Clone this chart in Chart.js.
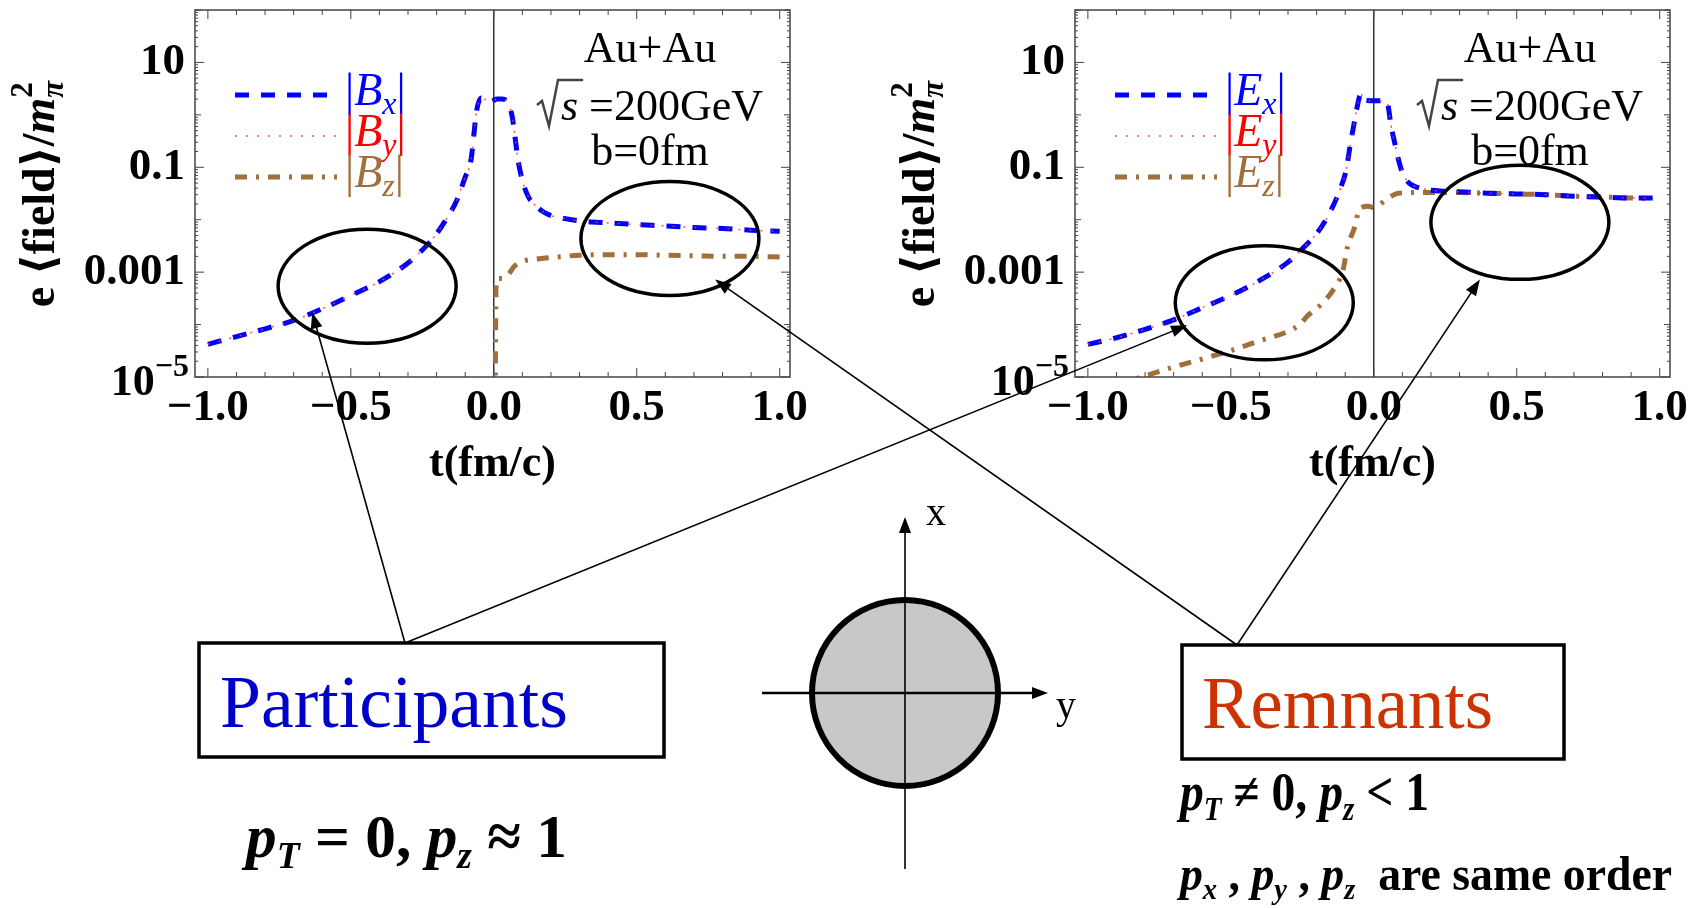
<!DOCTYPE html>
<html>
<head>
<meta charset="utf-8">
<script src="https://cdn.jsdelivr.net/npm/chart.js@4.4.1/dist/chart.umd.min.js"></script>
<style>
    body { margin: 0; background: #fff; width: 1698px; height: 908px; overflow: hidden; position: relative; }
    .plot { position: absolute; top: 0; width: 840px; height: 500px; }
    #overlay { position: absolute; left: 0; top: 0; pointer-events: none; }
</style>
</head>
<body>
<div class="plot" style="left:0"><canvas id="plotB"></canvas></div>
<div class="plot" style="left:880px"><canvas id="plotE"></canvas></div>
<canvas id="overlay" width="1698" height="908"></canvas>
<script>
// ---- Datos ----
const tB = [-1.0, -0.9, -0.8, -0.7, -0.6, -0.5, -0.4, -0.3, -0.24, -0.2, -0.17, -0.13, -0.1, -0.08, -0.06, -0.045, -0.03, -0.015, 0, 0.01, 0.03, 0.05, 0.065, 0.075, 0.085, 0.1, 0.12, 0.14, 0.17, 0.2, 0.25, 0.3, 0.4, 0.5, 0.6, 0.7, 0.8, 0.9, 1.0];
const bxValues = [4.2e-5, 5.9e-5, 8.3e-5, 1.2e-4, 2.0e-4, 3.6e-4, 6.6e-4, 1.5e-3, 3.0e-3, 5.4e-3, 9.5e-3, 0.023, 0.065, 0.135, 1.2, 2.1, 1.95, 1.8, 1.9, 2.0, 2.0, 1.66, 0.89, 0.35, 0.135, 0.056, 0.028, 0.020, 0.0145, 0.012, 0.0105, 0.0095, 0.0087, 0.0081, 0.0076, 0.0071, 0.0068, 0.0063, 0.0060];
const byValues = [4.2e-5, 5.9e-5, 8.3e-5, 1.2e-4, 2.0e-4, 3.6e-4, 6.6e-4, 1.5e-3, 3.0e-3, 5.4e-3, 9.5e-3, 0.023, 0.065, 0.135, 1.2, 2.1, 1.95, 1.8, 1.9, 2.0, 2.0, 1.66, 0.89, 0.35, 0.135, 0.056, 0.028, 0.020, 0.0145, 0.012, 0.0105, 0.0095, 0.0087, 0.0081, 0.0076, 0.0071, 0.0068, 0.0063, 0.0060];
const tBz = [0.004, 0.008, 0.012, 0.03, 0.05, 0.07, 0.096, 0.15, 0.2, 0.3, 0.4, 0.5, 0.6, 0.7, 0.8, 0.9, 1.0];
const bzValues = [1e-6, 5.0e-4, 7.6e-4, 7.6e-4, 8.9e-4, 1.26e-3, 1.58e-3, 1.78e-3, 1.9e-3, 2.1e-3, 2.15e-3, 2.15e-3, 2.1e-3, 2.05e-3, 2.0e-3, 2.0e-3, 1.95e-3];

const tE = [-1.0, -0.9, -0.8, -0.7, -0.6, -0.5, -0.4, -0.3, -0.25, -0.2, -0.15, -0.115, -0.097, -0.08, -0.07, -0.06, -0.045, -0.035, -0.01, 0, 0.02, 0.04, 0.05, 0.06, 0.07, 0.085, 0.1, 0.12, 0.14, 0.18, 0.25, 0.3, 0.4, 0.5, 0.6, 0.7, 0.8, 0.9, 0.98];
const exValues = [4.2e-5, 5.6e-5, 8.1e-5, 1.23e-4, 2.1e-4, 3.6e-4, 6.9e-4, 1.55e-3, 2.8e-3, 5.4e-3, 0.015, 0.042, 0.087, 0.32, 0.63, 1.26, 2.5, 1.9, 1.86, 1.86, 1.86, 1.95, 1.5, 0.63, 0.35, 0.15, 0.079, 0.052, 0.044, 0.038, 0.035, 0.034, 0.032, 0.031, 0.030, 0.028, 0.027, 0.026, 0.026];
const eyValues = [4.2e-5, 5.6e-5, 8.1e-5, 1.23e-4, 2.1e-4, 3.6e-4, 6.9e-4, 1.55e-3, 2.8e-3, 5.4e-3, 0.015, 0.042, 0.087, 0.32, 0.63, 1.26, 2.5, 1.9, 1.86, 1.86, 1.86, 1.95, 1.5, 0.63, 0.35, 0.15, 0.079, 0.052, 0.044, 0.038, 0.035, 0.034, 0.032, 0.031, 0.030, 0.028, 0.027, 0.026, 0.026];
const tEz = [-0.9, -0.83, -0.7, -0.6, -0.5, -0.4, -0.3, -0.26, -0.23, -0.185, -0.143, -0.108, -0.092, -0.067, -0.05, -0.02, 0, 0.038, 0.06, 0.085, 0.15, 0.21, 0.3, 0.4, 0.5, 0.6, 0.7, 0.8, 0.9, 0.98];
const ezValues = [7.1e-6, 9.3e-6, 1.55e-5, 2.2e-5, 3.2e-5, 4.9e-5, 7.4e-5, 1.0e-4, 1.5e-4, 2.4e-4, 4.5e-4, 1.07e-3, 3.0e-3, 7.2e-3, 0.016, 0.018, 0.017, 0.023, 0.028, 0.032, 0.033, 0.033, 0.033, 0.032, 0.031, 0.030, 0.028, 0.027, 0.026, 0.025];

const xTickValues = [-1, -0.5, 0, 0.5, 1];
const xTickLabels = ['−1.0', '−0.5', '0.0', '0.5', '1.0'];
const yTickValues = [1e-5, 1e-3, 0.1, 10];
const yTickLabels = ['', '0.001', '0.1', '10'];   // 10^-5 se dibuja aparte (superíndice)
const components = ['x', 'y', 'z'];
const legendColors = ['#0000ff', '#ff0000', '#a0703c'];

const SERIF = '"Liberation Serif", "DejaVu Serif", serif';
const f = (style, size) => `${style} ${size}px ${SERIF}`;

// ---- Utilidades de dibujo ----
function richWidth(ctx, parts) {
    let w = 0;
    parts.forEach(p => { ctx.font = p.f; if (!p.stay) w += ctx.measureText(p.t).width; });
    return w;
}

function drawRich(ctx, parts, x, y, opts = {}) {
    const w = richWidth(ctx, parts);
    const sx = opts.width ? opts.width / w : 1;
    let start = x;
    if (opts.align === 'center') start = x - w * sx / 2;
    if (opts.align === 'right') start = x - w * sx;
    ctx.save();
    ctx.translate(start, y);
    ctx.scale(sx, 1);
    ctx.textAlign = 'left';
    ctx.textBaseline = 'alphabetic';
    let cx = 0;
    parts.forEach(p => {
        ctx.font = p.f;
        ctx.fillStyle = p.c || opts.color || '#000';
        ctx.fillText(p.t, cx, p.dy || 0);
        if (!p.stay) cx += ctx.measureText(p.t).width;
    });
    ctx.restore();
    return w * sx;
}

function line(ctx, x1, y1, x2, y2) {
    ctx.beginPath();
    ctx.moveTo(x1, y1);
    ctx.lineTo(x2, y2);
    ctx.stroke();
}

function arrow(ctx, x1, y1, x2, y2, width, headLen, headHalf) {
    const ang = Math.atan2(y2 - y1, x2 - x1);
    ctx.lineWidth = width;
    line(ctx, x1, y1, x2 - Math.cos(ang) * headLen * 0.6, y2 - Math.sin(ang) * headLen * 0.6);
    ctx.beginPath();
    ctx.moveTo(x2, y2);
    ctx.lineTo(x2 - Math.cos(ang) * headLen - Math.sin(ang) * headHalf, y2 - Math.sin(ang) * headLen + Math.cos(ang) * headHalf);
    ctx.lineTo(x2 - Math.cos(ang) * headLen + Math.sin(ang) * headHalf, y2 - Math.sin(ang) * headLen - Math.cos(ang) * headHalf);
    ctx.closePath();
    ctx.fill();
}

// ---- Plugin de decoración de cada panel (marco, ticks internos, leyenda, textos) ----
function panelDecor(panel) {
    return {
        id: 'panelDecor',
        beforeDatasetsDraw(chart) {
            const { ctx, chartArea: a, scales: { x } } = chart;
            const x0 = x.getPixelForValue(0);
            ctx.save();
            ctx.strokeStyle = '#000';
            ctx.lineWidth = 1.2;
            line(ctx, x0, a.top, x0, a.bottom);
            ctx.restore();
        },
        afterDatasetsDraw(chart) {
            const { ctx, chartArea: a, scales: { x, y } } = chart;
            ctx.save();

            // marco
            ctx.strokeStyle = '#444';
            ctx.lineWidth = 1.5;
            ctx.strokeRect(a.left, a.top, a.right - a.left, a.bottom - a.top);

            // ticks internos eje x (cada 0.1)
            ctx.lineWidth = 1;
            for (let i = -10; i <= 10; i++) {
                const px = x.getPixelForValue(i / 10);
                const len = i % 5 === 0 ? 9 : 5;
                line(ctx, px, a.bottom, px, a.bottom - len);
                line(ctx, px, a.top, px, a.top + len);
            }
            // ticks internos eje y (log)
            for (let e = -5; e <= 2; e++) {
                for (let m = 1; m <= 9; m++) {
                    const v = m * Math.pow(10, e);
                    if (v < y.min || v > y.max) continue;
                    const py = y.getPixelForValue(v);
                    const len = m === 1 ? (e % 2 !== 0 ? 9 : 6) : 3;
                    line(ctx, a.left, py, a.left + len, py);
                    line(ctx, a.right, py, a.right - len, py);
                }
            }

            // leyenda
            chart.data.datasets.forEach((ds, i) => {
                const ly = a.top + 85 + i * 41;
                ctx.save();
                ctx.strokeStyle = ds.borderColor;
                ctx.lineWidth = ds.borderWidth;
                ctx.setLineDash(ds.borderDash || []);
                line(ctx, a.left + 40, ly, a.left + 142, ly);
                ctx.restore();
                drawRich(ctx, [
                    { t: '|', f: f('', 46) },
                    { t: panel.symbol, f: f('italic', 46) },
                    { t: components[i], f: f('italic', 32), dy: 9 },
                    { t: '|', f: f('', 46) }
                ], a.left + 150, ly + 10, { color: legendColors[i] });
            });

            // bloque de texto Au+Au
            const cx = a.left + 455;
            ctx.fillStyle = '#000';
            ctx.textAlign = 'center';
            ctx.font = f('', 44);
            ctx.fillText('Au+Au', cx, a.top + 52);
            ctx.fillText('b=0fm', cx, a.top + 155);
            const by = a.top + 110;
            ctx.font = f('italic', 44);
            const ws = ctx.measureText('s').width;
            ctx.font = f('', 44);
            const wr = ctx.measureText(' =200GeV').width;
            const sx0 = cx - (24 + ws + wr) / 2;
            ctx.lineWidth = 2.5;
            ctx.beginPath();
            ctx.moveTo(sx0, by - 15);
            ctx.lineTo(sx0 + 5, by - 19);
            ctx.lineTo(sx0 + 12, by + 6);
            ctx.lineTo(sx0 + 21, by - 40);
            ctx.lineTo(sx0 + 24 + ws + 5, by - 40);
            ctx.stroke();
            drawRich(ctx, [{ t: 's', f: f('italic', 44) }, { t: ' =200GeV', f: f('', 44) }], sx0 + 24, by);

            // elipses
            ctx.strokeStyle = '#000';
            ctx.lineWidth = 3.5;
            panel.ellipses.forEach(el => {
                ctx.beginPath();
                ctx.ellipse(x.getPixelForValue(el.t), y.getPixelForValue(el.v), el.rx, el.ry, 0, 0, Math.PI * 2);
                ctx.stroke();
            });
            ctx.restore();
        },
        afterDraw(chart) {
            const { ctx, chartArea: a, scales: { y } } = chart;
            ctx.save();
            // etiqueta 10^-5
            drawRich(ctx, [
                { t: '10', f: f('bold', 44) },
                { t: '−5', f: f('bold', 32), dy: -19 }
            ], a.left - 6, y.getPixelForValue(1e-5) + 18, { align: 'right' });

            // título eje x
            ctx.fillStyle = '#000';
            ctx.textAlign = 'center';
            ctx.font = f('bold', 44);
            ctx.fillText('t(fm/c)', (a.left + a.right) / 2, 476);

            // título eje y (rotado)
            ctx.translate(54, 194);
            ctx.rotate(-Math.PI / 2);
            drawRich(ctx, [
                { t: 'e ⟨field⟩/', f: f('bold', 46) },
                { t: 'm', f: f('bold italic', 46) },
                { t: '2', f: f('bold', 31), dy: -22, stay: true },
                { t: 'π', f: f('bold italic', 31), dy: 9 }
            ], 0, 0, { align: 'center' });
            ctx.restore();
        }
    };
}

function axisOptions() {
    const tickFont = { family: SERIF, weight: 'bold', size: 45 };
    return {
        x: {
            type: 'linear', min: -1.045, max: 1.036,
            afterBuildTicks: s => { s.ticks = xTickValues.map(v => ({ value: v })); },
            afterFit: s => { s.height = 100; s.paddingLeft = 0; s.paddingRight = 0; },
            grid: { display: false, drawTicks: false },
            border: { display: false },
            ticks: {
                autoSkip: false, maxRotation: 0, padding: 4, color: '#000', font: tickFont,
                callback: v => xTickLabels[xTickValues.indexOf(v)]
            }
        },
        y: {
            type: 'logarithmic', min: 1e-5, max: 100,
            afterBuildTicks: s => { s.ticks = yTickValues.map(v => ({ value: v })); },
            afterFit: s => { s.width = 195; s.paddingTop = 0; s.paddingBottom = 0; },
            grid: { display: false, drawTicks: false },
            border: { display: false },
            ticks: {
                autoSkip: false, padding: 10, color: '#000', font: tickFont,
                callback: v => {
                    const i = yTickValues.findIndex(t => Math.abs(v / t - 1) < 1e-6);
                    return i >= 0 ? yTickLabels[i] : '';
                }
            }
        }
    };
}

function makeDatasets(tMain, v1, v2, tZ, vZ) {
    return [
        { label: '1', data: tMain.map((t, i) => ({ x: t, y: v1[i] })), borderColor: '#0000ff', borderWidth: 5, borderDash: [14, 12], order: 2 },
        { label: '2', data: tMain.map((t, i) => ({ x: t, y: v2[i] })), borderColor: 'rgba(255,50,50,0.85)', borderWidth: 1.5, borderDash: [2, 9], order: 1 },
        { label: '3', data: tZ.map((t, i) => ({ x: t, y: vZ[i] })), borderColor: '#a0703c', borderWidth: 5, borderDash: [12, 9, 3, 9], order: 3 }
    ];
}

const panels = {
    B: {
        left: 0, symbol: 'B',
        ellipses: [{ t: -0.443, v: 5.4e-4, rx: 89, ry: 57 }, { t: 0.616, v: 4.4e-3, rx: 89, ry: 57 }],
        arrowTips: [{ t: -0.635, v: 1.7e-4 }, { t: 0.774, v: 7.2e-4 }]
    },
    E: {
        left: 880, symbol: 'E',
        ellipses: [{ t: -0.383, v: 2.6e-4, rx: 89, ry: 57 }, { t: 0.511, v: 8.9e-3, rx: 89, ry: 57 }],
        arrowTips: [{ t: -0.653, v: 9.7e-5 }, { t: 0.371, v: 7.2e-4 }]
    }
};

function makeChart(id, panel, datasets) {
    return new Chart(document.getElementById(id), {
        type: 'line',
        data: { datasets },
        options: {
            responsive: true, maintainAspectRatio: false, animation: false,
            layout: { padding: { left: 0, right: 50, top: 10, bottom: 23 } },
            plugins: { legend: { display: false }, tooltip: { enabled: false } },
            elements: { point: { radius: 0 }, line: { cubicInterpolationMode: 'monotone', fill: false, borderCapStyle: 'butt' } },
            scales: axisOptions()
        },
        plugins: [panelDecor(panel)]
    });
}

const chartB = makeChart('plotB', panels.B, makeDatasets(tB, bxValues, byValues, tBz, bzValues));
const chartE = makeChart('plotE', panels.E, makeDatasets(tE, exValues, eyValues, tEz, ezValues));

// ---- Diagrama inferior y flechas ----
function tipOnPage(chart, panel, k) {
    const tip = panel.arrowTips[k];
    return [panel.left + chart.scales.x.getPixelForValue(tip.t), chart.scales.y.getPixelForValue(tip.v)];
}

function drawOverlay() {
    const ctx = document.getElementById('overlay').getContext('2d');
    ctx.clearRect(0, 0, 1698, 908);
    ctx.strokeStyle = '#000';
    ctx.fillStyle = '#000';

    // flechas
    const pStart = [405, 643];
    const rStart = [1237, 645];
    const tips = [
        [pStart, tipOnPage(chartB, panels.B, 0)],
        [pStart, tipOnPage(chartE, panels.E, 0)],
        [rStart, tipOnPage(chartB, panels.B, 1)],
        [rStart, tipOnPage(chartE, panels.E, 1)]
    ];
    tips.forEach(([s, e]) => arrow(ctx, s[0], s[1], e[0], e[1], 1.6, 16, 6));

    // cajas
    ctx.lineWidth = 3.5;
    ctx.strokeRect(199, 643, 465, 114);
    ctx.strokeRect(1182, 645, 382, 114);
    ctx.textAlign = 'left';
    ctx.textBaseline = 'alphabetic';
    ctx.font = f('', 75);
    ctx.fillStyle = '#0000cc';
    ctx.fillText('Participants', 220, 727, 348);
    ctx.fillStyle = '#cc3300';
    ctx.fillText('Remnants', 1202, 728, 291);

    // círculo y ejes
    ctx.fillStyle = '#c8c8c8';
    ctx.strokeStyle = '#000';
    ctx.lineWidth = 6;
    ctx.beginPath();
    ctx.arc(905, 693, 93, 0, Math.PI * 2);
    ctx.fill();
    ctx.stroke();
    ctx.fillStyle = '#000';
    arrow(ctx, 905, 869, 905, 517, 1.6, 16, 6);
    arrow(ctx, 762, 693, 1048, 693, 2.5, 16, 6);
    ctx.font = f('', 40);
    ctx.fillText('x', 926, 525, 22);
    ctx.fillText('y', 1056, 718, 22);

    // textos de momento
    const sub = (t, size) => ({ t, f: f('bold italic', size), dy: size * 0.3 });
    drawRich(ctx, [
        { t: 'p', f: f('bold italic', 62) }, sub('T', 38),
        { t: ' = 0, ', f: f('bold', 62) },
        { t: 'p', f: f('bold italic', 62) }, sub('z', 38),
        { t: ' ≈ 1', f: f('bold', 62) }
    ], 246, 857, { width: 321 });
    drawRich(ctx, [
        { t: 'p', f: f('bold italic', 54) }, sub('T', 33),
        { t: ' ≠ 0, ', f: f('bold', 54) },
        { t: 'p', f: f('bold italic', 54) }, sub('z', 33),
        { t: ' < 1', f: f('bold', 54) }
    ], 1180, 810, { width: 249 });
    drawRich(ctx, [
        { t: 'p', f: f('bold italic', 48) }, sub('x', 30),
        { t: ' , ', f: f('bold', 48) },
        { t: 'p', f: f('bold italic', 48) }, sub('y', 30),
        { t: ' , ', f: f('bold', 48) },
        { t: 'p', f: f('bold italic', 48) }, sub('z', 30),
        { t: '  are same order', f: f('bold', 48) }
    ], 1180, 890, { width: 492 });
}

drawOverlay();
</script>
</body>
</html>
